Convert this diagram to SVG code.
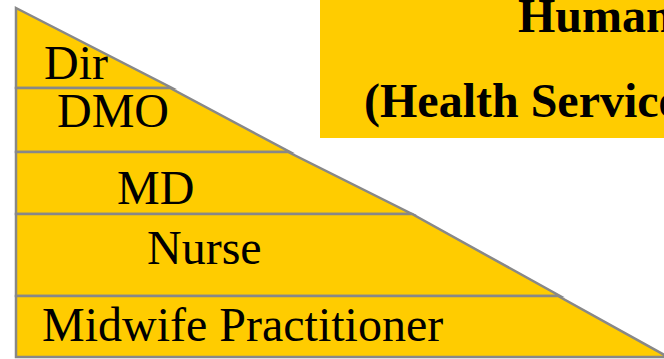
<svg xmlns="http://www.w3.org/2000/svg" width="664" height="359" viewBox="0 0 664 359">
<style>
.layer{fill:#FFCC00;stroke:#888888;stroke-width:2.5;stroke-linejoin:miter;stroke-miterlimit:10}
.lbl{font-family:"Liberation Serif","Times New Roman",serif;font-size:48px;fill:#000}
.title{font-family:"Liberation Serif","Times New Roman",serif;font-size:48px;font-weight:bold;fill:#000}
</style>
<rect width="664" height="359" fill="#FFFFFF"/>
<g id="title-box">
<rect x="320" y="0" width="344" height="138" fill="#FFCC00"/>
<text class="title" x="518" y="32">Human</text>
<text class="title" x="364" y="117">(Health Service</text>
</g>
<g id="dir">
<polygon class="layer" points="16,8 172,88 16,88"/>
<text class="lbl" x="44" y="79">Dir</text>
</g>
<g id="dmo">
<polygon class="layer" points="16,88 170,88 290,152 16,152"/>
<text class="lbl" x="57" y="127">DMO</text>
</g>
<g id="md">
<polygon class="layer" points="16,152 288,152 412,214 16,214"/>
<text class="lbl" x="117" y="204">MD</text>
</g>
<g id="nurse">
<polygon class="layer" points="16,214 412,214 560,296 16,296"/>
<text class="lbl" x="147" y="264">Nurse</text>
</g>
<g id="midwife">
<polygon class="layer" points="16,296 558,296 668,357 16,357"/>
<text class="lbl" x="42" y="341">Midwife Practitioner</text>
</g>
<g id="connectors"></g>
</svg>
